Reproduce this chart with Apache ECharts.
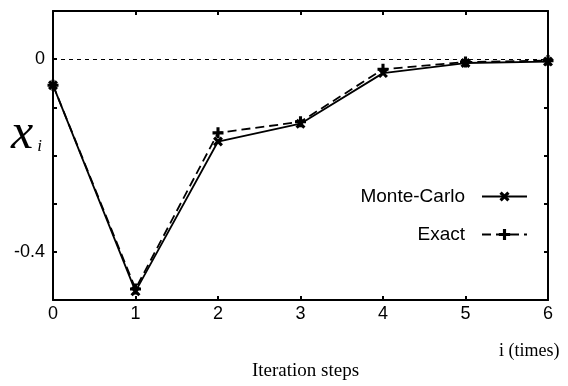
<!DOCTYPE html>
<html>
<head>
<meta charset="utf-8">
<script src="https://cdn.jsdelivr.net/npm/echarts@6/dist/echarts.min.js"></script>
<style>
  html, body { margin: 0; padding: 0; background: #fff; }
  #chart { width: 568px; height: 386px; }
</style>
</head>
<body>
<div id="chart"></div>
<script>
// Iteration index i
const steps = [0, 1, 2, 3, 4, 5, 6];
// x_i estimated by Monte-Carlo
const monteCarlo = [-0.054, -0.482, -0.171, -0.134, -0.029, -0.008, -0.005];
// x_i from the exact computation
const exact = [-0.054, -0.477, -0.153, -0.130, -0.021, -0.006, -0.003];
// y tick labels that are printed
const yLabels = [0, -0.4];

const PLUS = 'path://M3.6,0H6.4V3.6H10V6.4H6.4V10H3.6V6.4H0V3.6H3.6Z';
const FONT = '"Liberation Sans", Arial, sans-serif';
const SERIF = '"Liberation Serif", "Times New Roman", serif';

const pairs = arr => steps.map((s, k) => [s, arr[k]]);

const chart = echarts.init(document.getElementById('chart'), null, { renderer: 'canvas' });

const axisCommon = {
  type: 'value',
  axisLine: { show: true, onZero: false, lineStyle: { color: '#000', width: 2 } },
  axisTick: { show: true, inside: true, length: 4, lineStyle: { color: '#000', width: 2 } },
  splitLine: { show: false }
};

chart.setOption({
  animation: false,
  backgroundColor: '#fff',
  grid: { left: 53, right: 20, top: 11, bottom: 85, containLabel: false },
  xAxis: [
    Object.assign({}, axisCommon, {
      position: 'bottom', min: 0, max: 6, interval: 1,
      axisLabel: { color: '#000', fontFamily: FONT, fontSize: 18, margin: 5 },
      name: 'Iteration steps', nameLocation: 'middle', nameGap: 62,
      nameTextStyle: { color: '#000', fontFamily: SERIF, fontSize: 19, padding: [0, 0, 0, 10] }
    }),
    Object.assign({}, axisCommon, {
      position: 'top', min: 0, max: 6, interval: 1,
      axisLabel: { show: false }
    })
  ],
  yAxis: [
    Object.assign({}, axisCommon, {
      position: 'left', min: -0.5, max: 0.1, interval: 0.1,
      axisLabel: {
        color: '#000', fontFamily: FONT, fontSize: 18, margin: 8,
        formatter: v => {
          const hit = yLabels.find(t => Math.abs(t - v) < 1e-6);
          return hit === undefined ? '' : String(hit);
        }
      }
    }),
    Object.assign({}, axisCommon, {
      position: 'right', min: -0.5, max: 0.1, interval: 0.1,
      axisLabel: { show: false }
    })
  ],
  legend: [
    {
      data: ['Monte-Carlo'], right: 40, top: 187, orient: 'vertical', align: 'right',
      itemWidth: 45, itemHeight: 14, itemGap: 0, padding: 0,
      textStyle: { color: '#000', fontFamily: FONT, fontSize: 19, padding: [0, 12, 0, 0] },
      selectedMode: false
    },
    {
      data: ['Exact'], right: 40, top: 225, orient: 'vertical', align: 'right',
      itemWidth: 45, itemHeight: 14, itemGap: 0, padding: 0,
      textStyle: { color: '#000', fontFamily: FONT, fontSize: 19, padding: [0, 12, 0, 0] },
      selectedMode: false
    }
  ],
  graphic: [
    {
      type: 'text', left: 11, top: 110,
      style: {
        text: '{x|x}{i|i}',
        rich: {
          x: { fontFamily: SERIF, fontStyle: 'italic', fontSize: 50, fill: '#000' },
          i: { fontFamily: SERIF, fontStyle: 'italic', fontSize: 17, fill: '#000', padding: [24, 0, 0, 4] }
        }
      }
    },
    {
      type: 'text', left: 499, top: 342,
      style: { text: 'i (times)', fontFamily: SERIF, fontSize: 18, fill: '#000' }
    }
  ],
  series: [
    {
      name: 'Monte-Carlo', type: 'line', data: pairs(monteCarlo),
      symbol: PLUS, symbolSize: 11, symbolRotate: 45,
      lineStyle: { color: '#000', width: 1.8, type: 'solid' },
      itemStyle: { color: '#000' },
      z: 3,
      markLine: {
        silent: true, symbol: 'none', label: { show: false },
        lineStyle: { color: '#000', width: 1.2, type: [4, 4] },
        data: [{ yAxis: 0 }]
      }
    },
    {
      name: 'Exact', type: 'line', data: pairs(exact),
      symbol: PLUS, symbolSize: 11,
      lineStyle: { color: '#000', width: 1.8, type: [9, 5] },
      itemStyle: { color: '#000' },
      z: 2
    }
  ]
});
</script>
</body>
</html>
